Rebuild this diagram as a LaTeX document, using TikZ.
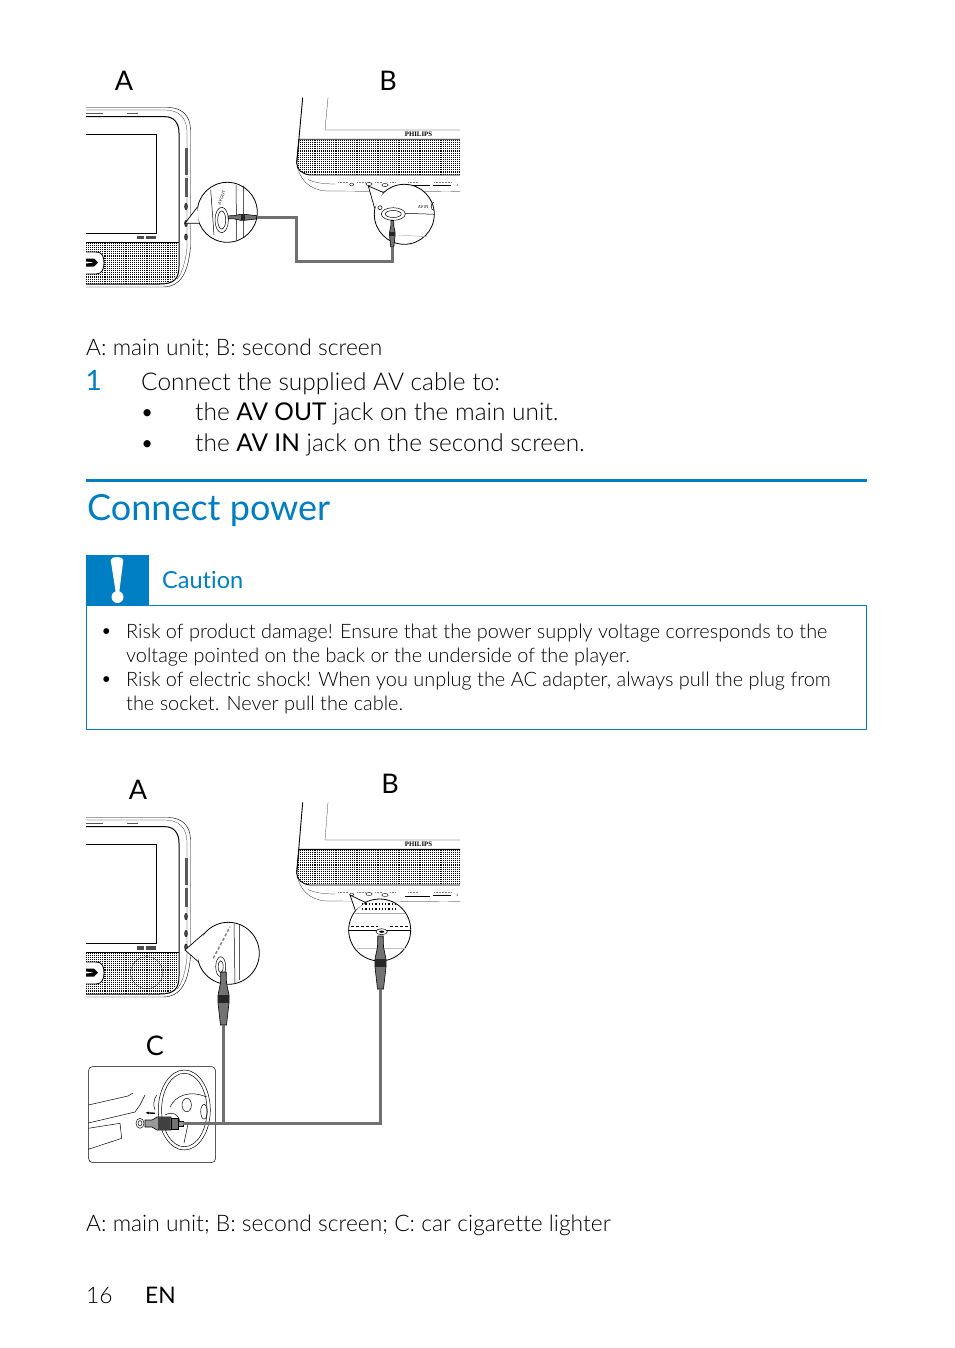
\documentclass[tikz,border=0pt]{standalone}
\usepackage{fontspec}
\setmainfont{Lato Light}[BoldFont={Lato},Ligatures=NoCommon]
\newfontfamily\phfont{Liberation Serif}
\usetikzlibrary{arrows.meta,positioning,patterns,calc}
\definecolor{phBlue}{RGB}{0,126,195}
\definecolor{cableGray}{RGB}{112,112,112}
\pgfdeclarepatternformonly{grilldots}{\pgfqpoint{-1pt}{-1pt}}{\pgfqpoint{1pt}{1pt}}{\pgfqpoint{2.1pt}{2.1pt}}{
  \pgfpathrectangle{\pgfqpoint{-.55pt}{-.55pt}}{\pgfqpoint{1.1pt}{1.1pt}}\pgfusepath{fill}}

\newcommand{\mainUnit}[2]{% y offset, speaker circle
\begin{scope}[yshift=-#1pt]
  \draw[thin] (86,107.5) -- (168,107.5) .. controls (182,107.5) and (190.5,116) .. (190.5,130) -- (190.5,247)
     .. controls (188,274) and (180,287) .. (163,287) -- (86,287);
  \draw[very thin] (86,110) -- (165,110) .. controls (179,110) and (187,118) .. (187,132) -- (187,248)
     .. controls (185,265) and (181,275) .. (177,279);
  \fill[pattern=grilldots] (86,243) -- (178,243) -- (178,266) .. controls (178,277) and (172,284) .. (160,284) -- (86,284) -- cycle;
  \draw[line width=1pt] (86,116.7) -- (165,116.7) .. controls (174,116.7) and (179,123) .. (179,133) -- (179,266)
     .. controls (179,279) and (174,284) .. (160,284) -- (86,284);
  \draw[line width=.8pt] (86,134) -| (156.3,233) -- (86,233);
  \draw[line width=.9pt] (86,242.7) -- (179,242.7);
  \draw[line width=1.8pt,black!65] (86,113.5) -- (103,113.5) (127,113.5) -- (138,113.5);
  \draw[fill=white,thick] (86,252) -- (96,252) .. controls (102,252) and (104,256) .. (104,263)
     .. controls (104,269) and (102,274) .. (96,274) -- (86,274);
  \fill (86,258.5) -- (94,258.5) -- (98,262.5) -- (94,266.5) -- (86,266.5) -- cycle;
  \fill[white] (86,261.5) -- (93,262.5) -- (86,263.5) -- cycle;
  \foreach \a/\b in {136.7/143.5,146/156}
    \fill[black!70] (\a,236) rectangle (\b,239.5);
  \foreach \a/\b in {148/175,178/197}
    \draw[line width=2.4pt,black!65] (186.5,\a) -- (186.5,\b);
  \foreach \y in {206.5,223.5,237}
    \draw[fill=black!70,draw=black] (186,\y) ellipse (1.4 and 3.2);
  #2
\end{scope}}

\newcommand{\secondScreen}[2]{% y offset, top of the housing
\begin{scope}[yshift=-#1pt]
  \draw[line width=.9pt] (302.7,#2) -- (296.7,163);
  \draw[very thin] (296.7,163) .. controls (299,180) and (310,190) .. (326,191) -- (460,191.7);
  \draw[very thin] (328,#2) -- (325,130) -- (460,130);
  \node[font=\phfont\bfseries, scale=.68, inner sep=0pt] (brand#1) at (418.5,134) {PHILIPS};
  \fill[pattern=grilldots] (299,139.5) -- (460,139.5) -- (460,175) -- (310,175) .. controls (302,174) and (297,170) .. (296.7,163) -- cycle;
  \draw[line width=.9pt] (460,139.3) -- (299,139.3) -- (296.7,163) .. controls (297,170) and (302,174) .. (310,175) -- (460,175);
  \draw[very thin] (308,179.5) .. controls (315,183) and (325,184) .. (335,184);
  \foreach \a/\b in {338/348,357/365,375/382,390/395,408/418,434/451}
    \draw[line width=.5pt,gray,densely dotted] (\a,182.5) -- (\b,182.5);
  \draw[line width=1pt] (405,186) -- (430,186) (433,185.5) -- (451,185.5);
  \draw[thin] (351.7,184.5) ellipse (2 and 1.4);
  \draw[thin] (369,184) ellipse (3.2 and 1.5);
  \draw[thin] (385,185) ellipse (3.2 and 1.5);
  \node[font=\bfseries, scale=.3, inner sep=0pt] (tick#1) at (457.5,185) {2};
\end{scope}}

\newcommand{\avPlug}[4]{% x, y, rotation, scale
\begin{scope}[shift={(#1,#2)},rotate=#3,scale=#4]
  \draw[fill=black!55,line width=.6pt] (-2.7,-53) -- (2.7,-53) -- (3,-42) -- (5.5,-30) -- (5.5,-22) -- (3,0) -- (-3,0) -- (-5.5,-22) -- (-5.5,-30) -- (-3,-42) -- cycle;
  \fill[black!85] (-5.7,-30) rectangle (5.7,-22);
\end{scope}}

\begin{document}
\begin{tikzpicture}[
  x=1pt, y=-1pt,
  txt/.style={inner sep=0pt, anchor=base west, font=\fontsize{24.45}{24}\selectfont},
  capt/.style={inner sep=0pt, anchor=base west, font=\fontsize{22.8}{24}\selectfont},
  small/.style={inner sep=0pt, anchor=base west, font=\fontsize{19.9}{21}\selectfont},
  bluetxt/.style={txt, text=phBlue},
  letter/.style={inner sep=0pt, font=\fontsize{27}{27}\selectfont\bfseries},
  lens/.style={circle, draw, line width=.8pt, fill=white, minimum size=60pt, inner sep=0pt},
  bubble/.style={fill=white, draw, line width=.7pt},
  cable/.style={draw=cableGray, line width=2.5pt},
  thinline/.style={line width=.5pt}
]
\useasboundingbox (0,0) rectangle (954,1348);

% first picture
\node[letter] (lblA) at (124,81) {A};
\node[letter] (lblB) at (388,81) {B};
\mainUnit{0}{}
\secondScreen{0}{97.7}

\coordinate (tipA) at (185,223.3);
\node[lens] (lensA) at (227.3,212.3) {};
\path[bubble] (lensA.170) -- (tipA) -- (lensA.201);
\draw[thinline] (210.7,190) -- (214,235) (236,185) -- (236.7,240) (243.3,186) -- (243.3,237);
\draw[thinline] (221.7,220) ellipse (6.7 and 12.7) (221.7,220) ellipse (4 and 9);
\node[font=\bfseries\itshape, scale=.42, rotate=70, inner sep=0pt] (avOut) at (221.7,198) {AV OUT};
\draw[line width=.8pt,gray] (228,217.3) -- (237,217.3);
\coordinate (endA) at (256.7,217.3);
\avPlug{256.7}{217.3}{90}{.54}

\coordinate (tipB) at (368.3,186);
\node[lens] (lensB) at (404.3,214.3) {};
\path[bubble] (lensB.168) -- (tipB) -- (lensB.134);
\draw[thinline] (393.3,214) ellipse (12 and 6.3) (393.3,214) ellipse (8 and 3.5);
\draw[thinline] (405,213.3) -- (lensB.east);
\draw[thinline] (lensB.east) ++(-1,-4) arc (90:270:2.5 and 4);
\draw[thinline,gray!60] (398,235) -- (427,236.7);
\draw[thinline] (380,207.7) circle (2);
\node[font=\bfseries\itshape, scale=.42, inner sep=0pt] (avIn) at (423.3,207.3) {AV IN};
\coordinate (endB) at (392.3,247);
\avPlug{392.3}{247}{0}{.5}
\draw[cable] (endA) -| (296.7,261.7) -| (endB);

% text
\node[capt] (cap1) at (86,355.5) {A: main unit; B: second screen};
\node[bluetxt, font=\fontsize{28}{28}\selectfont\bfseries] (num1) at (85.5,390.5) {1};
\node[txt] (step1) at (141,390) {Connect the supplied AV cable to:};
\node[txt] (bul1) at (140,420.5) {•};
\node[txt] (item1) at (195,420.5) {the \textbf{AV OUT} jack on the main unit.};
\node[txt] (bul2) at (140,451.5) {•};
\node[txt] (item2) at (195,451.5) {the \textbf{AV IN} jack on the second screen.};

\coordinate (ruleL) at (86,480);
\coordinate (ruleR) at (867,480);
\draw[phBlue, line width=3pt] (ruleL) -- (ruleR);
\node[bluetxt, font=\fontsize{36}{36}\selectfont\bfseries] (title) at (87,520) {Connect power};

\node[draw=phBlue, line width=1pt, minimum width=780pt, minimum height=124pt, inner sep=0pt, anchor=north west] (cautionbox) at (86,605) {};
\node[fill=phBlue, minimum width=63pt, minimum height=50pt, inner sep=0pt, anchor=south west] (cautiontab) at (86,605.5) {};
\fill[white] (110.7,560) .. controls (111,556) and (123,556) .. (123.3,560) -- (119.3,592) -- (115.7,592) -- cycle;
\node[circle, fill=white, minimum size=12pt, inner sep=0pt] (cautiondot) at (117.5,597) {};
\node[bluetxt, font=\fontsize{23.5}{24}\selectfont\bfseries] (cautionlbl) at (162,588.5) {Caution};

\node[small] (b1) at (100.5,637) {•};
\node[small] (l1) at (126,638) {Risk of product damage! Ensure that the power supply voltage corresponds to the};
\node[small] (l2) at (126,662) {voltage pointed on the back or the underside of the player.};
\node[small] (b2) at (100.5,685) {•};
\node[small] (l3) at (126,686) {Risk of electric shock! When you unplug the AC adapter, always pull the plug from};
\node[small] (l4) at (126,710) {the socket. Never pull the cable.};

% second picture
\node[letter] (lblA2) at (138,790) {A};
\node[letter] (lblB2) at (390,784) {B};
\node[letter] (lblC) at (155,1046) {C};
\mainUnit{710}{\draw[very thin] (146.7,972.7-710) circle (16);}
\secondScreen{710}{92.3}

\coordinate (tipA2) at (185,950);
\node[lens, minimum size=62pt] (lensA2) at (228.3,953.3) {};
\path[bubble] (lensA2.141) -- (tipA2) -- (lensA2.195);
\draw[thinline] (234,923.5) -- (235,983) (239.3,924.5) -- (239.3,980);
\draw[thinline] (220.7,966.7) ellipse (5 and 10) (220.7,966.7) ellipse (2.5 and 6);
\draw[line width=1.4pt,densely dashed,gray] (213.3,958.3) -- (230,926.7);
\coordinate (endA2) at (223.5,1025);
\avPlug{223.5}{1025}{0}{1}

\coordinate (tipB2) at (350,895);
\node[lens, minimum size=62pt] (lensB2) at (379.7,930) {};
\path[bubble] (lensB2.141) -- (tipB2) -- (lensB2.118);
\foreach \y in {904,909}
  \draw[line width=1.3pt,dotted] (362,\y) -- (398,\y);
\draw[line width=.8pt,gray!70] (355,913) -- (405,913);
\draw[line width=1pt,densely dashed] (351,926.7) -- (378,926.7) (390,926) -- (408,926);
\draw[line width=.9pt] (lensB2.west |- 0,930.7) -- (lensB2.east |- 0,930.7);
\draw[line width=.8pt,gray!50] (357,948) -- (405,948);
\draw[fill=white,thinline] (381.7,931.7) ellipse (5.7 and 3);
\fill (381.7,931.7) ellipse (2.5 and 1.1);
\coordinate (endB2) at (380.5,989);
\avPlug{380.5}{989}{0}{1}

% car
\node[draw, thinline, rounded corners=4pt, minimum width=127pt, minimum height=96pt, inner sep=0pt, anchor=north west] (carbox) at (88.3,1066.3) {};
\draw[thinline] (184.3,1110) ellipse (26 and 40) (184.3,1110) ellipse (22.7 and 36.7);
\draw[thinline] (170,1107) .. controls (176,1095) and (190,1090) .. (206.7,1097);
\draw[thinline] (186.7,1105) ellipse (4.7 and 6.7) (204,1111.7) ellipse (3.3 and 7.3);
\draw[thinline] (165,1115) .. controls (172,1111) and (180,1114) .. (180,1124);
\draw[thinline] (188,1124) -- (184,1143);
\draw[thinline] (192,1123) -- (209,1122);
\draw[thinline] (88.3,1105) -- (128,1096) -- (133,1093);
\draw[thinline] (145,1095) -- (140,1105) -- (135,1112) -- (88.3,1123);
\draw[thinline] (88.3,1128.3) -- (120,1123.3) -- (121.7,1138.3) -- (88.3,1149.3);
\draw[thinline] (156.7,1095) .. controls (153.5,1100) and (153,1105) .. (155,1110);
\draw[-{Latex[length=4pt]}, line width=1.4pt] (155,1113.3) -- (145,1112.7);
\draw[thinline] (140,1123.3) ellipse (4 and 5) (140,1123.3) ellipse (2 and 2.7);
\draw[fill=black!40,line width=.6pt] (145,1120) -- (152,1120) -- (157,1117) -- (171,1117) -- (171,1130) -- (157,1130) -- (152,1127) -- (145,1127) -- cycle;
\fill[black!75] (158,1117) rectangle (170,1130);
\draw[fill=black!55,line width=.6pt] (171,1118) rectangle (178,1129);
\draw[fill=black!40,line width=.5pt] (178,1121) rectangle (183,1126);
\coordinate (endC) at (183,1123.3);
\draw[cable] (endC) -| (endB2);
\draw[cable] (endA2) -- (endA2 |- endC);

\node[capt] (cap2) at (86,1231) {A: main unit; B: second screen; C: car cigarette lighter};
\node[capt] (pagenum) at (86,1303) {16};
\node[capt, font=\fontsize{22.8}{24}\selectfont\bfseries] (pagelang) at (145,1303) {EN};
\end{tikzpicture}
\end{document}
